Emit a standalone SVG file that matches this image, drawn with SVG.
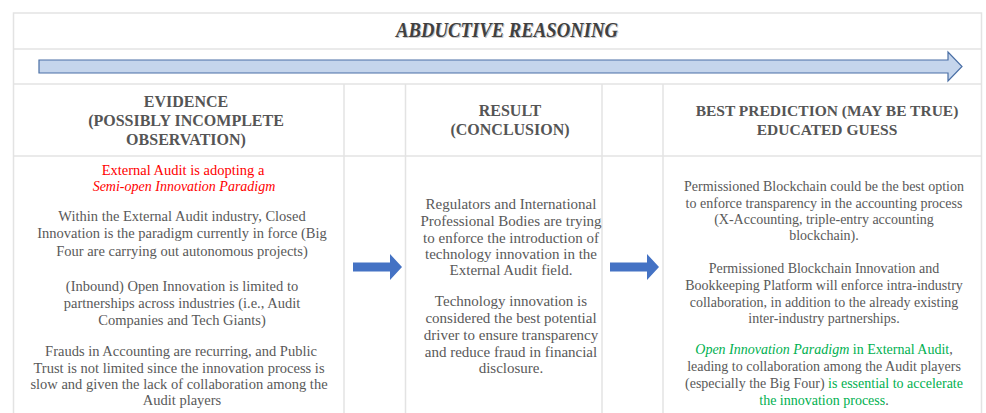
<svg xmlns="http://www.w3.org/2000/svg" width="986" height="413" viewBox="0 0 986 413">
<style>
.grid{stroke:#e3e3e3;stroke-width:1.5;fill:none}
.t{font-family:"Liberation Serif","DejaVu Serif",serif;font-size:14px;fill:#595959;text-anchor:middle}
.e{font-size:14.5px}
.r{font-size:15px}
.h{font-family:"Liberation Serif","DejaVu Serif",serif;font-size:16px;font-weight:bold;fill:#555555;text-anchor:middle}
.h2{font-size:15.5px}
.red{fill:#ff0000}
.grn{fill:#00b050}
.it{font-style:italic}
.ttl{font-family:"Liberation Serif",serif;font-size:20px;font-weight:bold;font-style:italic;text-anchor:middle}
</style>
<defs>
<path id="blueArrow" d="M0,-4.5 H37 V-13 L49,0 L37,13 V4.5 H0 Z" fill="#4472c4"/>
</defs>
<rect width="986" height="413" fill="#ffffff"/>
<g id="grid">
<rect class="grid" x="13.5" y="13" width="968" height="410"/>
<line class="grid" x1="13.5" y1="49" x2="981.5" y2="49"/>
<line class="grid" x1="13.5" y1="84" x2="981.5" y2="84"/>
<line class="grid" x1="13.5" y1="156" x2="981.5" y2="156"/>
<line class="grid" x1="344" y1="84" x2="344" y2="413"/>
<line class="grid" x1="405.5" y1="84" x2="405.5" y2="413"/>
<line class="grid" x1="602" y1="84" x2="602" y2="413"/>
<line class="grid" x1="663" y1="84" x2="663" y2="413"/>
</g>
<g id="title">
<text class="ttl" x="508" y="38" fill="#c8c8c8" textLength="222" lengthAdjust="spacingAndGlyphs">ABDUCTIVE REASONING</text>
<text class="ttl" x="507" y="37" fill="#404040" textLength="222" lengthAdjust="spacingAndGlyphs">ABDUCTIVE REASONING</text>
</g>
<g id="timeline-arrow">
<path d="M39,60 H948 V52 L962,66.5 L948,81 V73 H39 Z" fill="#c5d5ec" stroke="#4a6fa5" stroke-width="1.2"/>
</g>
<g id="evidence">
<text class="h" x="186" y="107">EVIDENCE</text>
<text class="h" x="186" y="126">(POSSIBLY INCOMPLETE</text>
<text class="h" x="186" y="145">OBSERVATION)</text>
<text class="t e red" x="183" y="175">External Audit is adopting a</text>
<text class="t red it" x="184" y="191">Semi-open Innovation Paradigm</text>
<text class="t e" x="182" y="221">Within the External Audit industry, Closed</text>
<text class="t e" x="182" y="238">Innovation is the paradigm currently in force (Big</text>
<text class="t e" x="182" y="256">Four are carrying out autonomous projects)</text>
<text class="t e" x="182" y="291">(Inbound) Open Innovation is limited to</text>
<text class="t e" x="182" y="308">partnerships across industries (i.e., Audit</text>
<text class="t e" x="182" y="325">Companies and Tech Giants)</text>
<text class="t e" x="181" y="356">Frauds in Accounting are recurring, and Public</text>
<text class="t e" x="179" y="373">Trust is not limited since the innovation process is</text>
<text class="t e" x="179" y="389">slow and given the lack of collaboration among the</text>
<text class="t e" x="182" y="405">Audit players</text>
</g>
<g id="result">
<text class="h" x="510" y="116">RESULT</text>
<text class="h" x="510" y="135">(CONCLUSION)</text>
<text class="t r" x="511" y="209">Regulators and International</text>
<text class="t r" x="511" y="226">Professional Bodies are trying</text>
<text class="t r" x="511" y="243">to enforce the introduction of</text>
<text class="t r" x="511" y="259">technology innovation in the</text>
<text class="t r" x="511" y="275">External Audit field.</text>
<text class="t r" x="511" y="306">Technology innovation is</text>
<text class="t r" x="511" y="323">considered the best potential</text>
<text class="t r" x="511" y="340">driver to ensure transparency</text>
<text class="t r" x="511" y="357">and reduce fraud in financial</text>
<text class="t r" x="511" y="373">disclosure.</text>
</g>
<g id="prediction">
<text class="h h2" x="827" y="116">BEST PREDICTION (MAY BE TRUE)</text>
<text class="h h2" x="827" y="135">EDUCATED GUESS</text>
<text class="t" x="824" y="191">Permissioned Blockchain could be the best option</text>
<text class="t" x="824" y="208">to enforce transparency in the accounting process</text>
<text class="t" x="824" y="224">(X-Accounting, triple-entry accounting</text>
<text class="t" x="824" y="240">blockchain).</text>
<text class="t" x="824" y="273">Permissioned Blockchain Innovation and</text>
<text class="t" x="824" y="290">Bookkeeping Platform will enforce intra-industry</text>
<text class="t" x="824" y="307">collaboration, in addition to the already existing</text>
<text class="t" x="824" y="323">inter-industry partnerships.</text>
<text class="t" x="824" y="354"><tspan class="grn it">Open Innovation Paradigm</tspan><tspan class="grn"> in External Audit</tspan>,</text>
<text class="t" x="824" y="371">leading to collaboration among the Audit players</text>
<text class="t" x="824" y="388">(especially the Big Four) <tspan class="grn">is essential to accelerate</tspan></text>
<text class="t" x="824" y="405"><tspan class="grn">the innovation process</tspan>.</text>
</g>
<g id="connectors">
<use href="#blueArrow" x="353" y="267"/>
<use href="#blueArrow" x="610" y="267"/>
</g>
</svg>
